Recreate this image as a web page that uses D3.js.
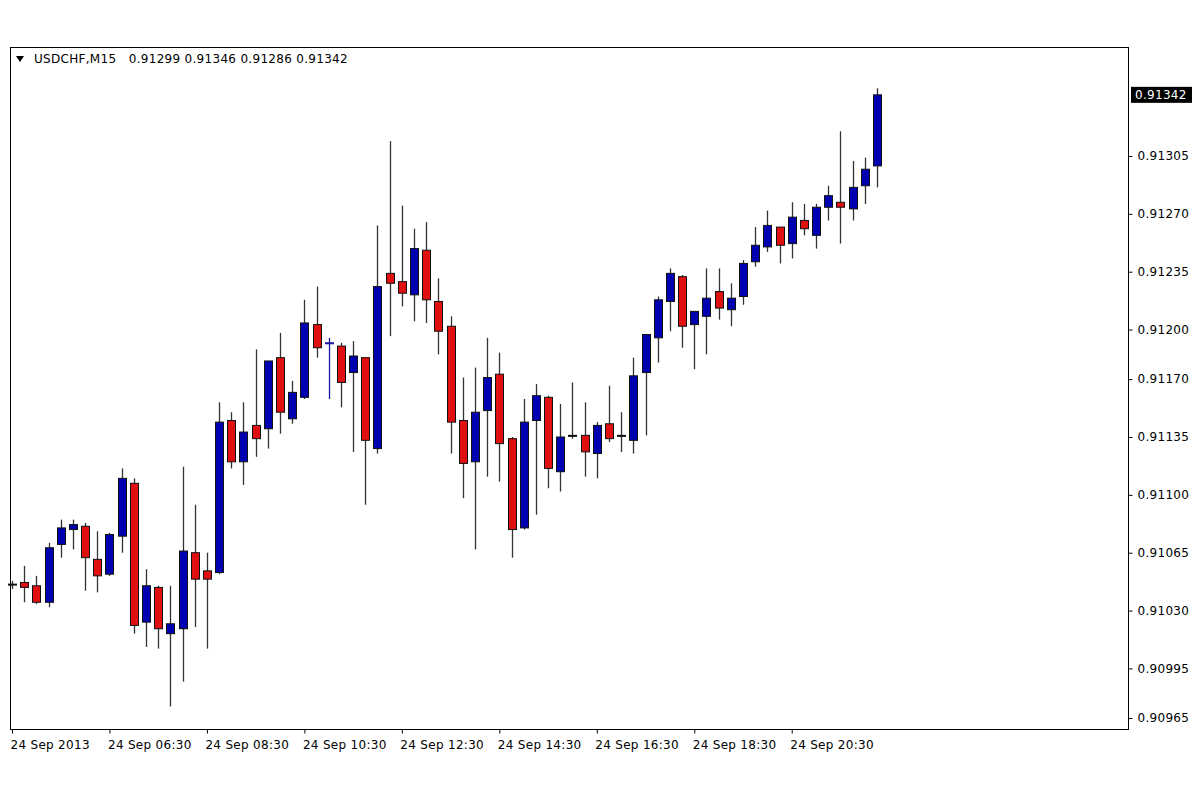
<!DOCTYPE html>
<html>
<head>
<meta charset="utf-8">
<script src="https://cdn.jsdelivr.net/npm/d3@7"></script>
<style>
  body { margin: 0; background: #fff; }
  text { font-family: "DejaVu Sans", sans-serif; font-size: 12px; letter-spacing: 0.3px; fill: #000; }
</style>
</head>
<body>
<div id="chart"></div>
<script>
// USDCHF M15 candles, 24 Sep 2013 from 04:30 (prices in 1/100000)
var opens  = [91046,91047,91045,91035,91070,91079,91081,91061,91052,91075,91107,91023,91044,91016,91019,91065,91054,91053,91145,91120,91142,91140,91183,91146,91159,91203,91192,91190,91174,91183,91128,91234,91229,91221,91248,91217,91202,91145,91120,91151,91173,91134,91080,91145,91159,91114,91136,91136,91125,91143,91136,91133,91174,91195,91217,91232,91203,91208,91223,91212,91220,91241,91250,91262,91252,91266,91257,91274,91277,91273,91287,91299];
var highs  = [91048,91057,91051,91071,91085,91085,91083,91078,91077,91116,91110,91055,91045,91045,91117,91094,91065,91156,91150,91156,91188,91181,91198,91169,91218,91226,91195,91192,91193,91183,91263,91314,91275,91261,91265,91231,91208,91171,91177,91195,91186,91135,91158,91167,91160,91155,91168,91156,91144,91166,91150,91183,91197,91220,91237,91233,91211,91237,91237,91228,91242,91262,91272,91262,91277,91276,91276,91287,91320,91302,91304,91346];
var lows   = [91043,91035,91034,91032,91062,91067,91042,91041,91051,91065,91016,91008,91007,90972,90987,91020,91007,91052,91116,91106,91123,91128,91137,91143,91158,91183,91158,91153,91126,91094,91125,91196,91214,91205,91204,91185,91125,91098,91067,91111,91108,91062,91079,91088,91104,91102,91134,91111,91110,91132,91126,91125,91136,91180,91199,91189,91176,91185,91206,91202,91215,91238,91247,91240,91243,91257,91249,91266,91252,91266,91276,91286];
var closes = [91046,91044,91035,91068,91080,91082,91062,91051,91076,91110,91021,91045,91019,91022,91066,91049,91049,91144,91120,91138,91134,91181,91150,91162,91204,91189,91192,91168,91184,91133,91226,91228,91222,91249,91218,91199,91144,91119,91150,91171,91131,91079,91144,91160,91116,91135,91136,91126,91142,91134,91136,91172,91197,91218,91234,91202,91211,91219,91213,91219,91240,91251,91263,91251,91268,91261,91274,91281,91274,91286,91297,91342];
var priceTicks = [0.90965,0.90995,0.91030,0.91065,0.91100,0.91135,0.91170,0.91200,0.91235,0.91270,0.91305];
var timeTickIdx = [0,8,16,24,32,40,48,56,64];
var timeLabels = ["24 Sep 2013","24 Sep 06:30","24 Sep 08:30","24 Sep 10:30","24 Sep 12:30","24 Sep 14:30","24 Sep 16:30","24 Sep 18:30","24 Sep 20:30"];

var W = 1200, H = 800;
var plot = {left: 10, top: 47, right: 1128, bottom: 729};

var svg = d3.select("#chart").append("svg")
    .attr("width", W).attr("height", H);

var x = d3.scaleLinear().domain([0, 71]).range([12, 877]);
var y = d3.scaleLinear().domain([0.90965, 0.91305]).range([718, 156]);
var P = function(v) { return v / 100000; };

// frame
svg.append("rect")
    .attr("x", plot.left + 0.5).attr("y", plot.top + 0.5)
    .attr("width", plot.right - plot.left).attr("height", plot.bottom - plot.top)
    .attr("fill", "none").attr("stroke", "#000");

// price axis
var yAxis = svg.append("g").attr("transform", "translate(" + (plot.right + 0.5) + ",0)")
    .call(d3.axisRight(y).tickValues(priceTicks).tickSize(4).tickPadding(5)
      .tickFormat(d3.format(".5f")));
yAxis.select(".domain").remove();
yAxis.selectAll("text").style("font-size", "12px");

// time axis
var xAxis = svg.append("g").attr("transform", "translate(0," + (plot.bottom + 0.5) + ")")
    .call(d3.axisBottom(x).tickValues(timeTickIdx).tickSize(4)
      .tickFormat(function(d, i) { return timeLabels[i]; }));
xAxis.select(".domain").remove();
xAxis.selectAll("text").attr("text-anchor", "start").attr("x", -2).attr("dy", "1em")
    .style("font-size", "12px");

var data = opens.map(function(o, i) {
  return {i: i, o: P(o), h: P(highs[i]), l: P(lows[i]), c: P(closes[i])};
});

var g = svg.append("g");
var bw = 8;

// wicks
g.selectAll("line.wick").data(data).enter().append("line")
    .attr("class", "wick")
    .attr("x1", function(d) { return Math.round(x(d.i)) + 0.5; })
    .attr("x2", function(d) { return Math.round(x(d.i)) + 0.5; })
    .attr("y1", function(d) { return y(d.h); })
    .attr("y2", function(d) { return y(d.l); })
    .attr("stroke", function(d) { return d.i === 26 ? "#1a1aa0" : "#333"; })
    .attr("stroke-width", 1.3);

// bodies
g.selectAll("rect.body").data(data).enter().append("rect")
    .attr("class", "body")
    .attr("x", function(d) { return Math.round(x(d.i)) - bw / 2 + 0.5; })
    .attr("y", function(d) { return y(Math.max(d.o, d.c)); })
    .attr("width", bw)
    .attr("height", function(d) { return Math.max(1, Math.abs(y(d.o) - y(d.c))); })
    .attr("fill", function(d) { return d.c >= d.o ? "#0000b0" : "#e01010"; })
    .attr("stroke", function(d) { return d.i === 26 ? "#1a1aa0" : "#111"; })
    .attr("stroke-width", 1);

// last price label
var last = data[data.length - 1].c;
svg.append("rect").attr("x", plot.right + 3).attr("y", y(last) - 8)
    .attr("width", 61).attr("height", 16).attr("fill", "#000");
svg.append("text").attr("x", plot.right + 7).attr("y", y(last) + 4.5)
    .style("fill", "#fff").text(d3.format(".5f")(last));

// header
svg.append("path").attr("d", "M16,56 L24,56 L20,62 Z").attr("fill", "#000");
svg.append("text").attr("x", 34).attr("y", 63).attr("xml:space", "preserve")
    .text("USDCHF,M15   0.91299 0.91346 0.91286 0.91342");
</script>
</body>
</html>
